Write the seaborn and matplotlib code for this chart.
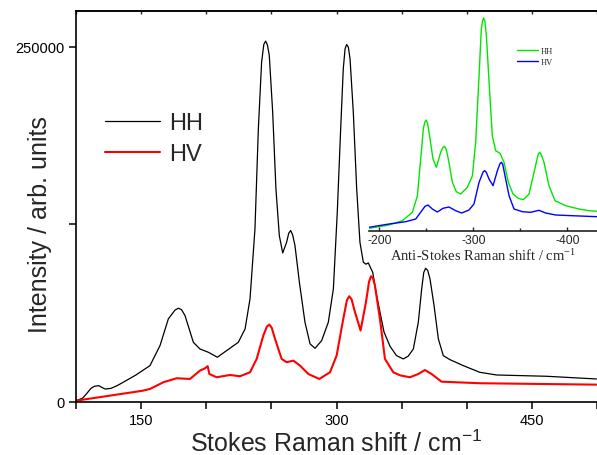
import numpy as np
import pandas as pd
import matplotlib
matplotlib.use("Agg")
import matplotlib.pyplot as plt
import seaborn as sns

# ---------------- data ----------------
stokes_hh_x = [100, 105, 108, 111.5, 114, 117.4, 120, 122.5, 126.9, 132, 138.4, 146, 156.8,
               164.5, 170.9, 176, 178.6, 181, 183.7, 190.1, 195.2, 201.6, 208.5, 215.7, 224.6, 229.8,
               233.6, 237.4, 240, 242.5, 244.2, 245.6, 247, 248.4, 251, 253.5, 256.1, 258.7, 261.7,
               263.3, 264.8, 266.3, 268.1, 271.5, 275.8, 279.7, 283.5, 288.6, 293.7, 297.6, 300.6,
               303.2, 305.2, 306.6, 307.8, 309.1, 310.4, 312.9, 315.5, 318, 320.6, 322.5, 324.4,
               327.8, 330.8, 333.4, 336.5, 341.1, 346, 351.2, 355, 359, 362.8, 365.4, 367, 368.4,
               370, 371.8, 374.9, 378.2, 382, 387.1, 397.3, 410, 422.9, 461.2, 499.6]
stokes_hh_y = [700, 2400, 5500, 9400, 10800, 11300, 10000, 8900, 9400, 11500, 14800, 18800, 25400,
               39500, 58300, 64500, 65800, 64800, 60600, 41800, 37100, 34800, 31300, 36000, 41800, 51200,
               72400, 121600, 192000, 239000, 251500, 253800, 251000, 243700, 203800, 149800, 116900,
               104700, 112200, 118500, 120500, 117500, 110000, 84100, 55900, 40700, 37600, 43000, 55900,
               79400, 133400, 192000, 234300, 248500, 251400, 249500, 241300, 203800, 149800, 112200,
               98200, 96800, 97700, 91100, 74700, 63000, 49000, 39000, 32500, 30100, 32000, 37100,
               55900, 79400, 91000, 93900, 92500, 86400, 67600, 44200, 32400, 29600, 25400, 20700,
               18800, 17900, 16000]

stokes_hv_x = [100, 125.6, 151, 156.8, 167.1, 177.3, 187.5, 195.2, 199, 201.1, 202.4, 208,
               218.2, 225.9, 233.6, 238.7, 243.8, 246.5, 248.4, 250.3, 252.8, 257.9, 261.7,
               266.9, 272, 278.4, 286.8, 295, 300.1, 305.2, 308, 309.8, 311.6, 314.2, 318.5,
               322.6, 325, 326.5, 328, 329.5, 333.4, 337.2, 343.6, 349, 356.4, 362.8, 367.9,
               373, 380.6, 410, 499.6]
stokes_hv_y = [700, 4200, 7700, 8980, 13700, 16500, 16000, 21900, 23500, 25000, 19500, 17200,
               18800, 17900, 20700, 30100, 46500, 52800, 54300, 52000, 44200, 30100, 27800,
               28900, 25400, 19500, 16000, 20700, 32500, 58300, 71500, 74200, 72000, 63000, 50100,
               70000, 84500, 88300, 87000, 81700, 58000, 30100, 20700, 18500, 17200, 19500, 22300,
               19500, 14100, 13000, 12000]

anti_hh_x = [-189, -210.3, -224.5, -235.1, -240.5, -244, -246.8, -248.3, -249.7, -251.2, -252.9,
             -257.1, -260.7, -265.3, -267.4, -269.2, -271, -273.4, -277.7, -281.9, -286.6, -293.6,
             -299, -302.5, -306.1, -308.5, -309.8, -311, -312.3, -313.9, -317.4, -320.2, -323.8,
             -328.4, -332.7, -337.3, -342.2, -347.9, -353.2, -359.3, -364.6, -369, -370.6, -372.2,
             -375.2, -380.5, -386.9, -398.3, -412.4, -423.1, -431.6]
anti_hh_y = [3, 6.3, 10.6, 19, 35.6, 72.3, 102.3, 109, 111.3, 108.5, 99,
             72.3, 64, 79, 83.5, 85, 82.5, 72.3, 49, 39.6, 37.3, 44,
             55.6, 89, 155.6, 202.3, 210.5, 213.3, 210, 195.6, 139, 95.6, 80.6,
             78, 69, 49, 37.3, 33, 31.6, 37.3, 59, 77, 79, 77,
             69, 45.6, 30.6, 25.6, 22.3, 20.6, 20]

anti_hv_x = [-189, -210.3, -228, -238.7, -244, -248.6, -251.8, -256.4, -261.7, -267.8,
             -274.1, -281.2, -287.6, -295.4, -300.7, -306.1, -310.5, -312.1, -313.8, -316.7,
             -321, -325.6, -328.3, -329.8, -331.3, -333.7, -338, -343.3, -352.2, -361, -369.9,
             -377, -387.6, -405.3, -431.6]
anti_hv_y = [4, 7.3, 9.6, 12.3, 19, 25, 26.3, 22.3, 19.3, 23,
             24.3, 20.6, 18.3, 21.3, 27.3, 49, 59.5, 60.6, 59, 52.3,
             45.6, 60.6, 67.5, 69, 67, 55.6, 35.6, 22.3, 19.6, 19, 21,
             18.3, 16.3, 15.6, 14.6]

main_xticks = [100, 150, 200, 250, 300, 350, 400, 450, 500]
main_xticklabels = ["", "150", "", "", "300", "", "", "450", ""]
main_yticks = [0, 125000, 250000]
main_yticklabels = ["0", "", "250000"]
inset_xticks = [-200, -300, -400]
inset_xticklabels = ["-200", "-300", "-400"]
inset_minor_xticks = [-250, -350]

# ---------------- style ----------------
sns.set_style("ticks")
plt.rcParams['font.family'] = ['Liberation Sans', 'DejaVu Sans']
plt.rcParams['mathtext.default'] = 'regular'

W, H = 597, 456
fig = plt.figure(figsize=(W / 100, H / 100), dpi=100)

ax = fig.add_axes([76 / W, 1 - 402.7 / H, 1 - 76 / W, (402.7 - 12) / H])

df_hh = pd.DataFrame({"x": stokes_hh_x, "y": stokes_hh_y})
df_hv = pd.DataFrame({"x": stokes_hv_x, "y": stokes_hv_y})
sns.lineplot(data=df_hh, x="x", y="y", ax=ax, color="black", lw=0.9,
             estimator=None, label="HH")
sns.lineplot(data=df_hv, x="x", y="y", ax=ax, color="#ff0000", lw=1.5,
             estimator=None, label="HV")
for ln in ax.lines:
    ln.set_solid_joinstyle("round")

ax.set_xlim(100, 500)
ax.set_ylim(0, 275000)
ax.set_xticks(main_xticks)
ax.set_xticklabels(main_xticklabels)
ax.set_yticks(main_yticks)
ax.set_yticklabels(main_yticklabels)
ax.tick_params(axis='both', which='major', direction='out', length=5, width=1.1,
               labelsize=10.5, pad=3, colors='black')
for s in ["left", "bottom", "top"]:
    ax.spines[s].set_linewidth(1.2)
    ax.spines[s].set_color("black")
ax.spines["right"].set_visible(False)

sec = ax.secondary_xaxis('top')
sec.set_xticks(main_xticks)
sec.tick_params(direction='in', length=2.5, width=1, labeltop=False)
sec.spines['top'].set_linewidth(1.2)

ax.set_xlabel("Stokes Raman shift / cm$^{-1}$", fontsize=18, labelpad=2)
ax.set_ylabel("Intensity / arb. units", fontsize=18)
ax.yaxis.set_label_coords(-0.047, 0.455)

handles, labels = ax.get_legend_handles_labels()
ax.legend(handles, labels, loc='upper left', bbox_to_anchor=(105 / W, 1 - 113 / H),
          bbox_transform=fig.transFigure, frameon=False, fontsize=17,
          handlelength=2.35, handletextpad=0.35, labelspacing=0.4,
          borderpad=0, borderaxespad=0)

# ---------------- inset ----------------
ins = fig.add_axes([369 / W, 1 - 232.3 / H, (597 - 369) / W, (232.3 - 12) / H])
ins.set_facecolor("none")
df_ahh = pd.DataFrame({"x": anti_hh_x, "y": anti_hh_y})
df_ahv = pd.DataFrame({"x": anti_hv_x, "y": anti_hv_y})
sns.lineplot(data=df_ahh, x="x", y="y", ax=ins, color="#00e600", lw=1.0,
             estimator=None, label="HH", sort=False)
sns.lineplot(data=df_ahv, x="x", y="y", ax=ins, color="#0000ff", lw=1.0,
             estimator=None, label="HV", sort=False)
for ln in ins.lines:
    ln.set_solid_joinstyle("round")
ins.set_xlim(-189, -431.6)
ins.set_ylim(0, 220.3)
ins.set_xticks(inset_xticks)
ins.set_xticklabels(inset_xticklabels)
ins.set_xticks(inset_minor_xticks, minor=True)
ins.set_yticks([])
ins.tick_params(axis='x', which='major', direction='in', length=3, width=1,
                labelsize=8.7, pad=2)
ins.tick_params(axis='x', which='minor', direction='in', length=2, width=1)
for s in ["left", "right", "top"]:
    ins.spines[s].set_visible(False)
ins.spines["bottom"].set_linewidth(1.2)
ins.spines["bottom"].set_color("#222222")
ins.set_xlabel("Anti-Stokes Raman shift / cm$^{-1}$", fontsize=10.5, labelpad=1,
               family=['Liberation Serif', 'DejaVu Serif'])
ins.set_ylabel("")
h2, l2 = ins.get_legend_handles_labels()
ins.legend(h2, l2, loc='upper left', bbox_to_anchor=(517.3 / W, 1 - 47.5 / H),
           bbox_transform=fig.transFigure, frameon=False,
           prop={'family': ['Liberation Serif', 'DejaVu Serif'], 'size': 6},
           handlelength=2.5, handletextpad=0.25, labelspacing=0.45,
           borderpad=0, borderaxespad=0)

fig.savefig("out.png", dpi=100)
